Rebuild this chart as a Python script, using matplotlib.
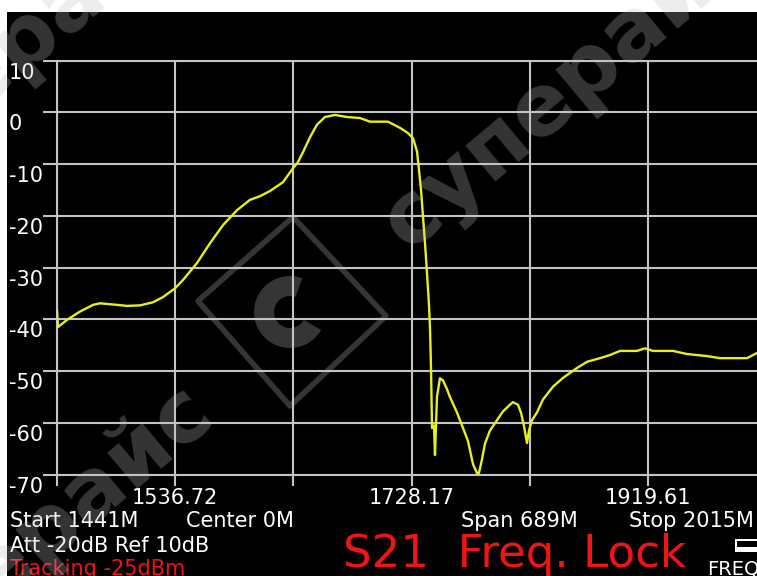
import matplotlib
matplotlib.use("Agg")
import matplotlib.pyplot as plt
from matplotlib.patches import Rectangle, Polygon, Wedge
import matplotlib.transforms as mtransforms
import numpy as np

# ---------------- data ----------------
freq_mhz = [1441.0, 1441.8, 1449.1, 1459.6, 1470.2, 1475.8, 1489.6, 1497.7, 1508.2,
            1518.7, 1526.8, 1536.6, 1543.0, 1554.4, 1564.9, 1575.4, 1586.8, 1597.3,
            1605.4, 1613.5, 1624.0, 1632.1, 1636.2, 1640.2, 1645.9, 1651.5, 1658.0,
            1666.1, 1675.8, 1686.4, 1694.5, 1709.0, 1718.8, 1725.2, 1729.3, 1732.5,
            1734.1, 1735.8, 1737.4, 1739.0, 1740.6, 1742.2, 1743.1, 1743.9, 1744.7,
            1746.3, 1747.1, 1748.7, 1751.1, 1753.6, 1756.8, 1759.2, 1764.9, 1769.8,
            1773.8, 1777.9, 1781.1, 1782.7, 1785.2, 1787.6, 1791.6, 1797.3, 1802.1,
            1807.8, 1810.2, 1814.3, 1816.7, 1819.1, 1821.6, 1823.2, 1825.6, 1829.7,
            1834.5, 1842.7, 1850.8, 1862.1, 1870.2, 1880.7, 1888.8, 1896.9, 1910.7,
            1917.2, 1923.6, 1939.8, 1951.2, 1967.4, 1977.9, 1999.8, 2007.9]
s21_db = [-38.2, -41.5, -40.1, -38.5, -37.2, -36.9, -37.2, -37.4, -37.3,
          -36.7, -35.7, -34.0, -32.4, -29.1, -25.3, -21.8, -18.9, -16.9,
          -16.2, -15.2, -13.5, -10.8, -9.6, -7.7, -4.8, -2.4, -0.9,
          -0.5, -0.9, -1.1, -1.8, -1.8, -3.0, -4.0, -5.0, -7.5,
          -11.0, -15.0, -20.2, -25.2, -31.0, -37.0, -42.0, -49.7, -61.0,
          -60.5, -66.2, -55.0, -51.4, -51.8, -53.5, -55.0, -58.0, -61.0,
          -63.5, -68.0, -69.7, -69.7, -67.0, -64.0, -61.5, -59.5, -57.8,
          -56.5, -56.0, -56.5, -58.0, -60.5, -63.9, -61.5, -59.5, -58.0,
          -55.5, -53.0, -51.3, -49.4, -48.2, -47.5, -46.9, -46.1, -46.1,
          -45.6, -46.1, -46.1, -46.7, -47.1, -47.5, -47.5, -46.5]

start_mhz = 1441.0
div_mhz = 95.72
x_grid = [start_mhz + k * div_mhz for k in range(7)]
x_labels = ["", "1536.72", "", "1728.17", "", "1919.61", ""]
y_ticks = [10, 0, -10, -20, -30, -40, -50, -60, -70]
y_labels = ["10", "0", "-10", "-20", "-30", "-40", "-50", "-60", "-70"]

W, H = 757, 576
GRID = "#c4c4c4"
TRACE = "#e6f01e"
RED = "#f01414"


def fx(px):
    return px / W


def fy(py):
    return 1 - py / H


fig = plt.figure(figsize=(W / 100, H / 100), dpi=100, facecolor="white")
fig.patches.append(Rectangle((fx(7), 0), 1, fy(12), transform=fig.transFigure,
                             facecolor="black", edgecolor="none", zorder=-10))

# axes: left grid line at px 57, 10 dB at py 60.6, -70 dB at py 474.6
ax_left, ax_top, ax_bot = 57, 60.6, 474.6
div_px = 118.2
ax = fig.add_axes([fx(ax_left), fy(ax_bot), 6 * div_px / W, (ax_bot - ax_top) / H])
ax.set_facecolor("black")
ax.set_xlim(x_grid[0], x_grid[-1])
ax.set_ylim(-70, 10)

ax.set_xticks(x_grid)
ax.set_xticklabels(x_labels)
ax.set_yticks(y_ticks)
ax.set_yticklabels([])
ax.grid(True, color=GRID, linewidth=1.5)
for side in ["left", "top", "bottom"]:
    ax.spines[side].set_color(GRID)
    ax.spines[side].set_linewidth(1.5)
ax.spines["right"].set_visible(False)
ax.tick_params(axis="x", direction="out", length=8, width=1.5, color=GRID,
               labelcolor="white", labelsize=15, pad=2)
ax.tick_params(axis="y", direction="out", length=10, width=1.5, color=GRID)
ax.tick_params(axis="y", which="both", right=False)

ax.plot(freq_mhz, s21_db, color=TRACE, linewidth=1.7, zorder=5)

# y labels sit just below their grid lines, left-aligned at the screen edge
ytrans = mtransforms.blended_transform_factory(fig.transFigure, ax.transData) + \
    mtransforms.ScaledTranslation(0, -12 / 100, fig.dpi_scale_trans)
for v, lab in zip(y_ticks, y_labels):
    ax.text(fx(9), v, lab, transform=ytrans, color="white", fontsize=15,
            ha="left", va="center", clip_on=False)

# status texts
fs = 15
fig.text(fx(10), fy(521), "Start 1441M", color="white", fontsize=fs, ha="left", va="center")
fig.text(fx(186), fy(521), "Center 0M", color="white", fontsize=fs, ha="left", va="center")
fig.text(fx(461), fy(521), "Span 689M", color="white", fontsize=fs, ha="left", va="center")
fig.text(fx(629), fy(521), "Stop 2015M", color="white", fontsize=fs, ha="left", va="center")
fig.text(fx(10), fy(546), "Att -20dB Ref 10dB", color="white", fontsize=fs, ha="left", va="center")
fig.text(fx(10), fy(569), "Tracking -25dBm", color=RED, fontsize=fs, ha="left", va="center")
fig.text(fx(343), fy(555), "S21  Freq. Lock", color=RED, fontsize=32.5, ha="left", va="center")
fig.text(fx(707), fy(569), "FREQ", color="white", fontsize=14, ha="left", va="center")
for (x0, y0, x1, y1) in [(735, 539, 757, 541), (735, 547, 757, 552), (735, 539, 737, 552)]:
    fig.patches.append(Rectangle((fx(x0), fy(y1)), (x1 - x0) / W, (y1 - y0) / H,
                                 transform=fig.transFigure, facecolor="white",
                                 edgecolor="none", zorder=4))

# faint watermark
WM = dict(color="#c1c1c1", alpha=0.28, fontsize=62, fontweight="bold",
          rotation=40, rotation_mode="anchor", ha="left", va="center", zorder=6)
for (px, py) in [(392, 234), (-170, 204), (-148, 694)]:
    fig.text(fx(px), fy(py), "суперайс", **WM)
# logo: rounded diamond + gear ring
dia = Polygon([(fx(198), fy(301)), (fx(293), fy(217)), (fx(386), fy(316)), (fx(290), fy(406))],
              closed=True, transform=fig.transFigure, fill=False, edgecolor="#c1c1c1",
              alpha=0.28, linewidth=4, joinstyle="round", zorder=6)
fig.patches.append(dia)
gear = Wedge((290, H - 312), 36, 70, 330, width=20, transform=None,
             facecolor="#c1c1c1", edgecolor="none", alpha=0.28, zorder=6)
fig.patches.append(gear)

fig.savefig("out.png", dpi=100, facecolor=fig.get_facecolor())
